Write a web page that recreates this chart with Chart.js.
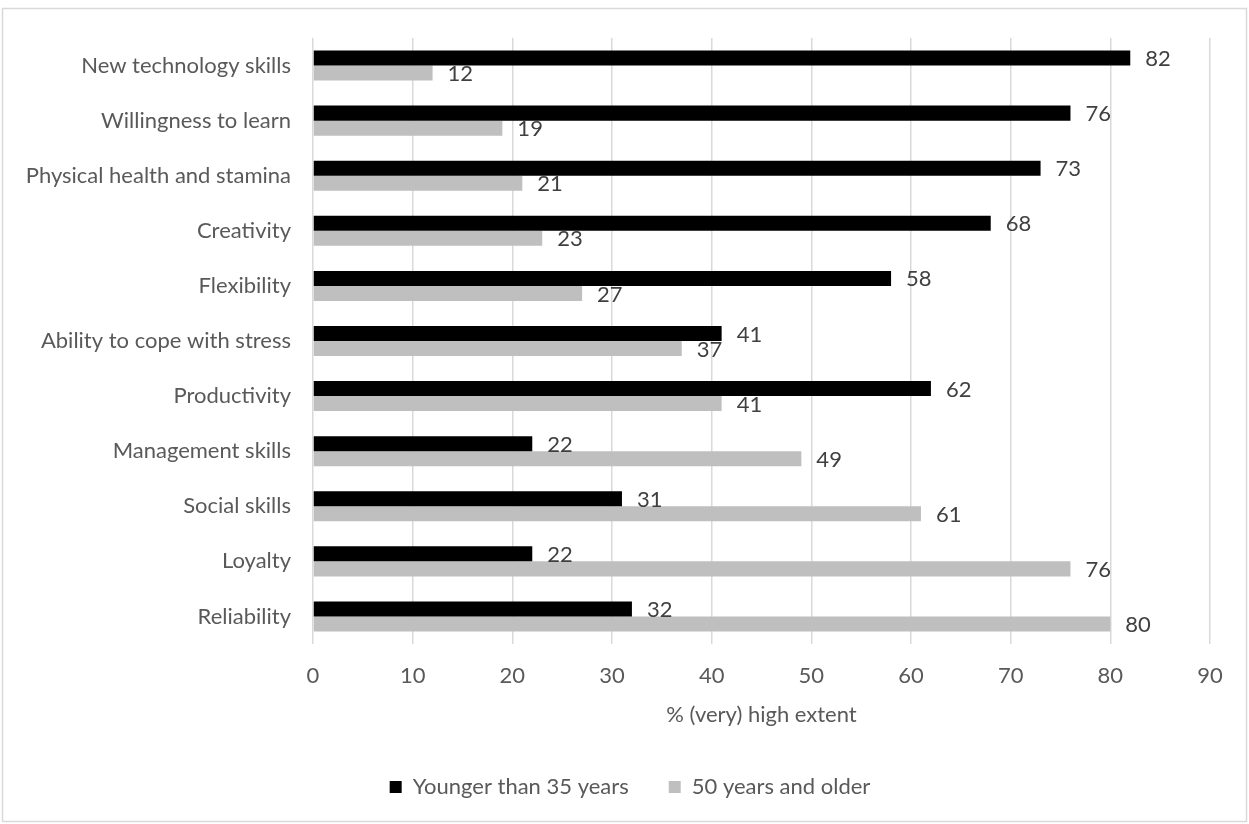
<!DOCTYPE html>
<html>
<head>
<meta charset="utf-8">
<script src="https://cdn.jsdelivr.net/npm/chart.js@4.4.1/dist/chart.umd.min.js"></script>
<style>
  html, body { margin:0; padding:0; background:#fff; }
  canvas { display:block; }
</style>
</head>
<body>
<canvas id="chart" width="1249" height="824"></canvas>
<script>
const categories = [
    'New technology skills',
    'Willingness to learn',
    'Physical health and stamina',
    'Creativity',
    'Flexibility',
    'Ability to cope with stress',
    'Productivity',
    'Management skills',
    'Social skills',
    'Loyalty',
    'Reliability',
];
const younger = [82, 76, 73, 68, 58, 41, 62, 22, 31, 22, 32];
const older   = [12, 19, 21, 23, 27, 37, 41, 49, 61, 76, 80];
const seriesNames = ['Younger than 35 years', '50 years and older'];
const xMax  = 90;
const xStep = 10;

const FONT = 'Lato, "Open Sans", sans-serif';
const TXT  = '#595959';

// frame around the whole chart, like the excel export
const framePlugin = {
    id: 'frame',
    beforeDraw(chart) {
        const c = chart.ctx;
        c.save();
        c.fillStyle = '#fff';
        c.fillRect(0, 0, chart.width, chart.height);
        c.strokeStyle = '#d9d9d9';
        c.lineWidth = 1.5;
        c.strokeRect(2.5, 8.5, 1244, 813);
        c.restore();
    }
};

// legend in the source sits a bit right of the canvas centre
const legendShift = {
    id: 'legendShift',
    afterLayout(chart) {
        if (!chart.legend) return;
        chart.legend.left  += 25;
        chart.legend.right += 25;
    }
};

// value labels at the end of each bar
const valueLabels = {
    id: 'valueLabels',
    afterDatasetsDraw(chart) {
        const c = chart.ctx;
        c.save();
        c.font = '22px ' + FONT;
        c.fillStyle = '#404040';
        c.textAlign = 'left';
        c.textBaseline = 'middle';
        chart.data.datasets.forEach((ds, i) => {
            chart.getDatasetMeta(i).data.forEach((bar, j) => {
                c.fillText(ds.data[j], bar.x + 15, bar.y + 1);
            });
        });
        c.restore();
    }
};

new Chart(document.getElementById('chart'), {
    type: 'bar',
    data: {
        labels: categories,
        datasets: [
            { label: seriesNames[0], data: younger, backgroundColor: '#000000' },
            { label: seriesNames[1], data: older,   backgroundColor: '#bfbfbf' },
        ]
    },
    options: {
        indexAxis: 'y',
        responsive: false,
        animation: false,
        devicePixelRatio: 1,
        categoryPercentage: 0.545,
        barPercentage: 1,
        layout: { padding: { top: 38, right: 39, left: 0, bottom: 16 } },
        plugins: {
            legend: {
                position: 'bottom',
                labels: {
                    font: { family: FONT, size: 22 },
                    color: TXT,
                    boxWidth: 12,
                    boxHeight: 12,
                    padding: 40,
                }
            },
            tooltip: { enabled: false },
        },
        scales: {
            y: {
                grid: { display: false, drawTicks: false },
                border: { display: false },
                ticks: { font: { family: FONT, size: 22 }, color: TXT, padding: 22 },
                afterFit(scale) { scale.width = 313; },
            },
            x: {
                min: 0,
                max: xMax,
                grid: { color: '#d9d9d9', lineWidth: 1.5, drawTicks: false },
                border: { display: false },
                ticks: { stepSize: xStep, font: { family: FONT, size: 22 }, color: TXT, padding: 19 },
                title: {
                    display: true,
                    text: '% (very) high extent',
                    font: { family: FONT, size: 22 },
                    color: TXT,
                    padding: { top: 4, bottom: 8 },
                },
                afterFit(scale) { scale.height = 92; },
            }
        }
    },
    plugins: [framePlugin, legendShift, valueLabels]
});
</script>
</body>
</html>
